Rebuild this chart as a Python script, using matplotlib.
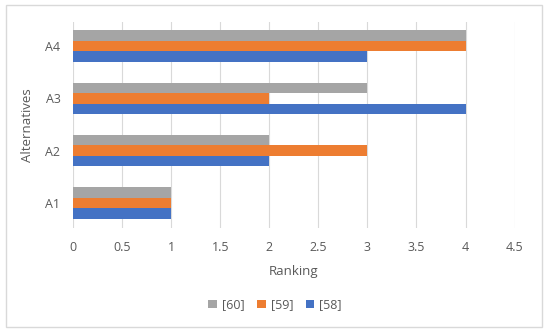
import matplotlib
matplotlib.use("Agg")
import matplotlib.pyplot as plt
import numpy as np
from matplotlib.patches import Rectangle

alternatives = ["A1", "A2", "A3", "A4"]
ref58 = [1, 2, 4, 3]
ref59 = [1, 3, 2, 4]
ref60 = [1, 2, 3, 4]
series = [("[58]", ref58, "#4472C4"), ("[59]", ref59, "#ED7D31"), ("[60]", ref60, "#A5A5A5")]
xticks = [0, 0.5, 1, 1.5, 2, 2.5, 3, 3.5, 4, 4.5]

plt.rcParams["font.family"] = ["Open Sans", "DejaVu Sans"]

fig = plt.figure(figsize=(5.5, 3.34), dpi=100)
ax = fig.add_axes([0.1327, 0.317, 0.803, 0.617])

y = np.arange(len(alternatives))
h = 0.2
for i, (name, vals, col) in enumerate(series):
    ax.barh(y + (i - 1) * h, vals, height=h, color=col, label=name, zorder=3)

ax.set_xlim(0, 4.5)
ax.set_ylim(-0.48, 3.46)
ax.set_xticks(xticks, [f"{t:g}" for t in xticks])
ax.set_yticks(y, alternatives)
ax.grid(axis="x", color="#D9D9D9", linewidth=0.8, zorder=0)
for s in ax.spines.values():
    s.set_visible(False)
ax.tick_params(length=0, labelsize=9, colors="#595959", pad=9)
ax.set_xlabel("Ranking", fontsize=9.5, color="#595959", labelpad=8)
ax.set_ylabel("Alternatives", fontsize=9.5, color="#595959", labelpad=8)

handles, labels = ax.get_legend_handles_labels()
fig.legend(handles[::-1], labels[::-1], loc="center", bbox_to_anchor=(0.5, 0.087),
           ncol=3, frameon=False, fontsize=9, handlelength=0.7, handleheight=0.7,
           handletextpad=0.4, columnspacing=1.0, labelcolor="#595959")

fig.patches.append(Rectangle((0.011, 0.021), 0.974, 0.964, transform=fig.transFigure,
                             fill=False, edgecolor="#D9D9D9", linewidth=1))

fig.savefig("out.png", dpi=100)
